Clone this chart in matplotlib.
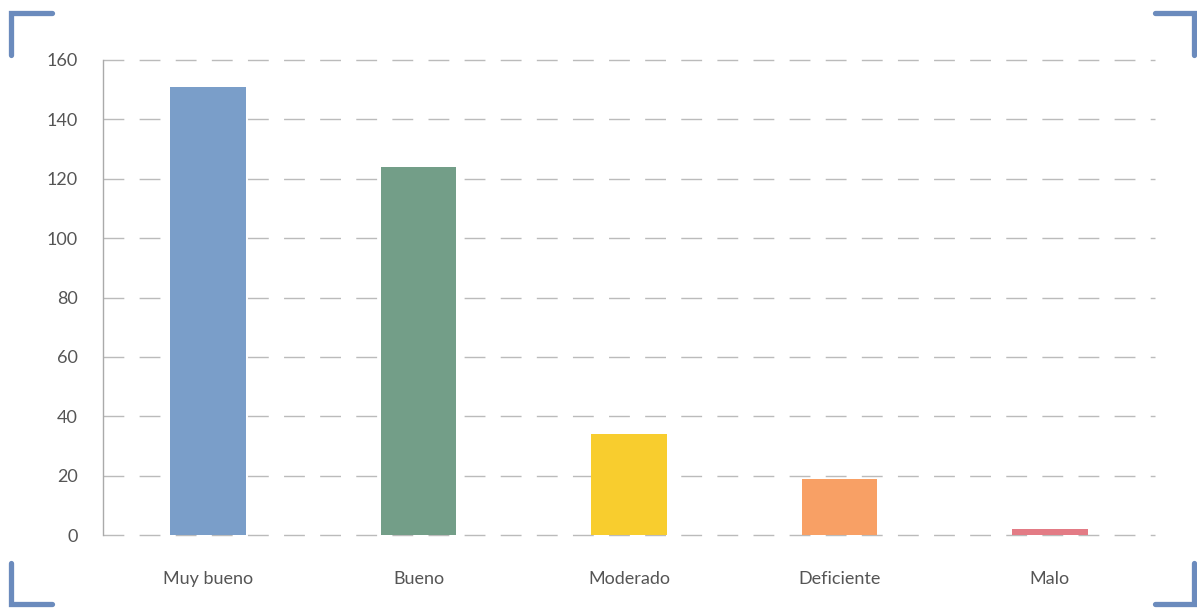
import matplotlib.pyplot as plt
from matplotlib.lines import Line2D

categorias = ['Muy bueno', 'Bueno', 'Moderado', 'Deficiente', 'Malo']
valores = [151, 124, 34, 19, 2]
colores = ['#7a9ec9', '#739e88', '#f8cd2e', '#f8a065', '#e37b85']
yticks = [0, 20, 40, 60, 80, 100, 120, 140, 160]

plt.rcParams['font.family'] = ['Lato', 'DejaVu Sans']

fig = plt.figure(figsize=(11.97, 6.08), dpi=100)
ax = fig.add_axes([103 / 1197, 73 / 608, 1052 / 1197, 475 / 608])

x = range(len(categorias))
ax.bar(x, valores, width=0.36, color=colores, zorder=3)

ax.set_xlim(-0.5, len(categorias) - 0.5)
ax.set_ylim(0, 160)
ax.set_yticks(yticks)
ax.set_xticks(list(x))
ax.set_xticklabels(categorias)

for yv in yticks:
    ax.axhline(yv, color='#bbbbbb', lw=1, dashes=(15, 11), zorder=1, clip_on=False)

for s in ['top', 'right', 'bottom']:
    ax.spines[s].set_visible(False)
ax.spines['left'].set_color('#aaaaaa')
ax.spines['left'].set_linewidth(1)

ax.tick_params(axis='both', length=0, labelsize=13, labelcolor='#555555')
ax.tick_params(axis='y', pad=18)
ax.tick_params(axis='x', pad=26)

# esquinas azules
c = '#6b8bbd'
W, H = 1197, 608
esquinas = [
    ([11, 11, 52], [55, 13, 13]),
    ([1155, 1194, 1194], [13, 13, 55]),
    ([11, 11, 52], [563, 604, 604]),
    ([1155, 1194, 1194], [604, 604, 563]),
]
for xs, ys in esquinas:
    fig.add_artist(Line2D([v / W for v in xs], [1 - v / H for v in ys],
                          color=c, lw=3.8, solid_capstyle='round',
                          solid_joinstyle='miter', transform=fig.transFigure))

fig.savefig('out.png', dpi=100)
